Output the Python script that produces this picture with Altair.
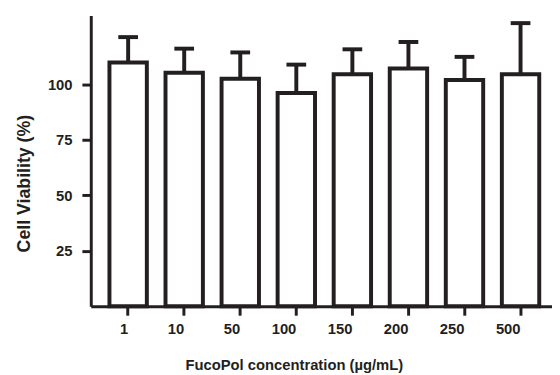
import altair as alt
import pandas as pd

concentrations = ["1", "10", "50", "100", "150", "200", "250", "500"]
viability = [109.9, 105.2, 102.5, 96.1, 104.6, 107.2, 102.0, 104.6]
upper = [121.3, 116.1, 114.4, 108.9, 115.8, 119.1, 112.4, 127.6]

df = pd.DataFrame({"conc": concentrations, "viab": viability, "upper": upper})

INK = "#231f20"
FONT = "Liberation Sans"

common = dict(
    domainColor=INK,
    domainWidth=3,
    tickColor=INK,
    tickWidth=3,
    tickSize=9,
    labelFont=FONT,
    labelFontWeight="bold",
    labelFontSize=15,
    labelColor=INK,
    titleFont=FONT,
    titleFontWeight="bold",
    titleColor=INK,
    grid=False,
)

x = alt.X(
    "conc:N",
    sort=concentrations,
    scale=alt.Scale(range=[0, 474], paddingInner=0.333, paddingOuter=0.333),
    axis=alt.Axis(
        title="FucoPol concentration (µg/mL)",
        labelAngle=0,
        labelPadding=14,
        titleFontSize=15,
        titleX=206,
        titleY=64,
        titleAlign="center",
        titleBaseline="alphabetic",
        **common,
    ),
)
y_scale = alt.Scale(domain=[0, 131], nice=False, zero=True)

bars = alt.Chart(df).mark_bar(fill="white", stroke=INK, strokeWidth=4).encode(
    x=x,
    y=alt.Y(
        "viab:Q",
        scale=y_scale,
        axis=alt.Axis(
            title="Cell Viability (%)",
            values=[25, 50, 75, 100],
            labelPadding=10,
            titleFontSize=18,
            titleX=-62,
            titleY=170,
            titleAlign="center",
            titleBaseline="alphabetic",
            titleAngle=270,
            **common,
        ),
    ),
)

err = alt.Chart(df).mark_rule(stroke=INK, strokeWidth=4).encode(
    x=alt.X("conc:N", sort=concentrations),
    y=alt.Y("viab:Q", scale=y_scale),
    y2="upper:Q",
)

caps = alt.Chart(df).mark_tick(color=INK, thickness=4, size=20, opacity=1).encode(
    x=alt.X("conc:N", sort=concentrations),
    y=alt.Y("upper:Q", scale=y_scale),
)

chart = (
    alt.layer(err, bars, caps)
    .properties(
        width=468,
        height=295,
        autosize=alt.AutoSizeParams(type="none"),
        padding={"left": 84, "top": 5, "right": 0, "bottom": 67},
    )
    .configure_view(stroke=None)
)

chart.save("out.html", embed_options={"renderer": "svg", "actions": False})
